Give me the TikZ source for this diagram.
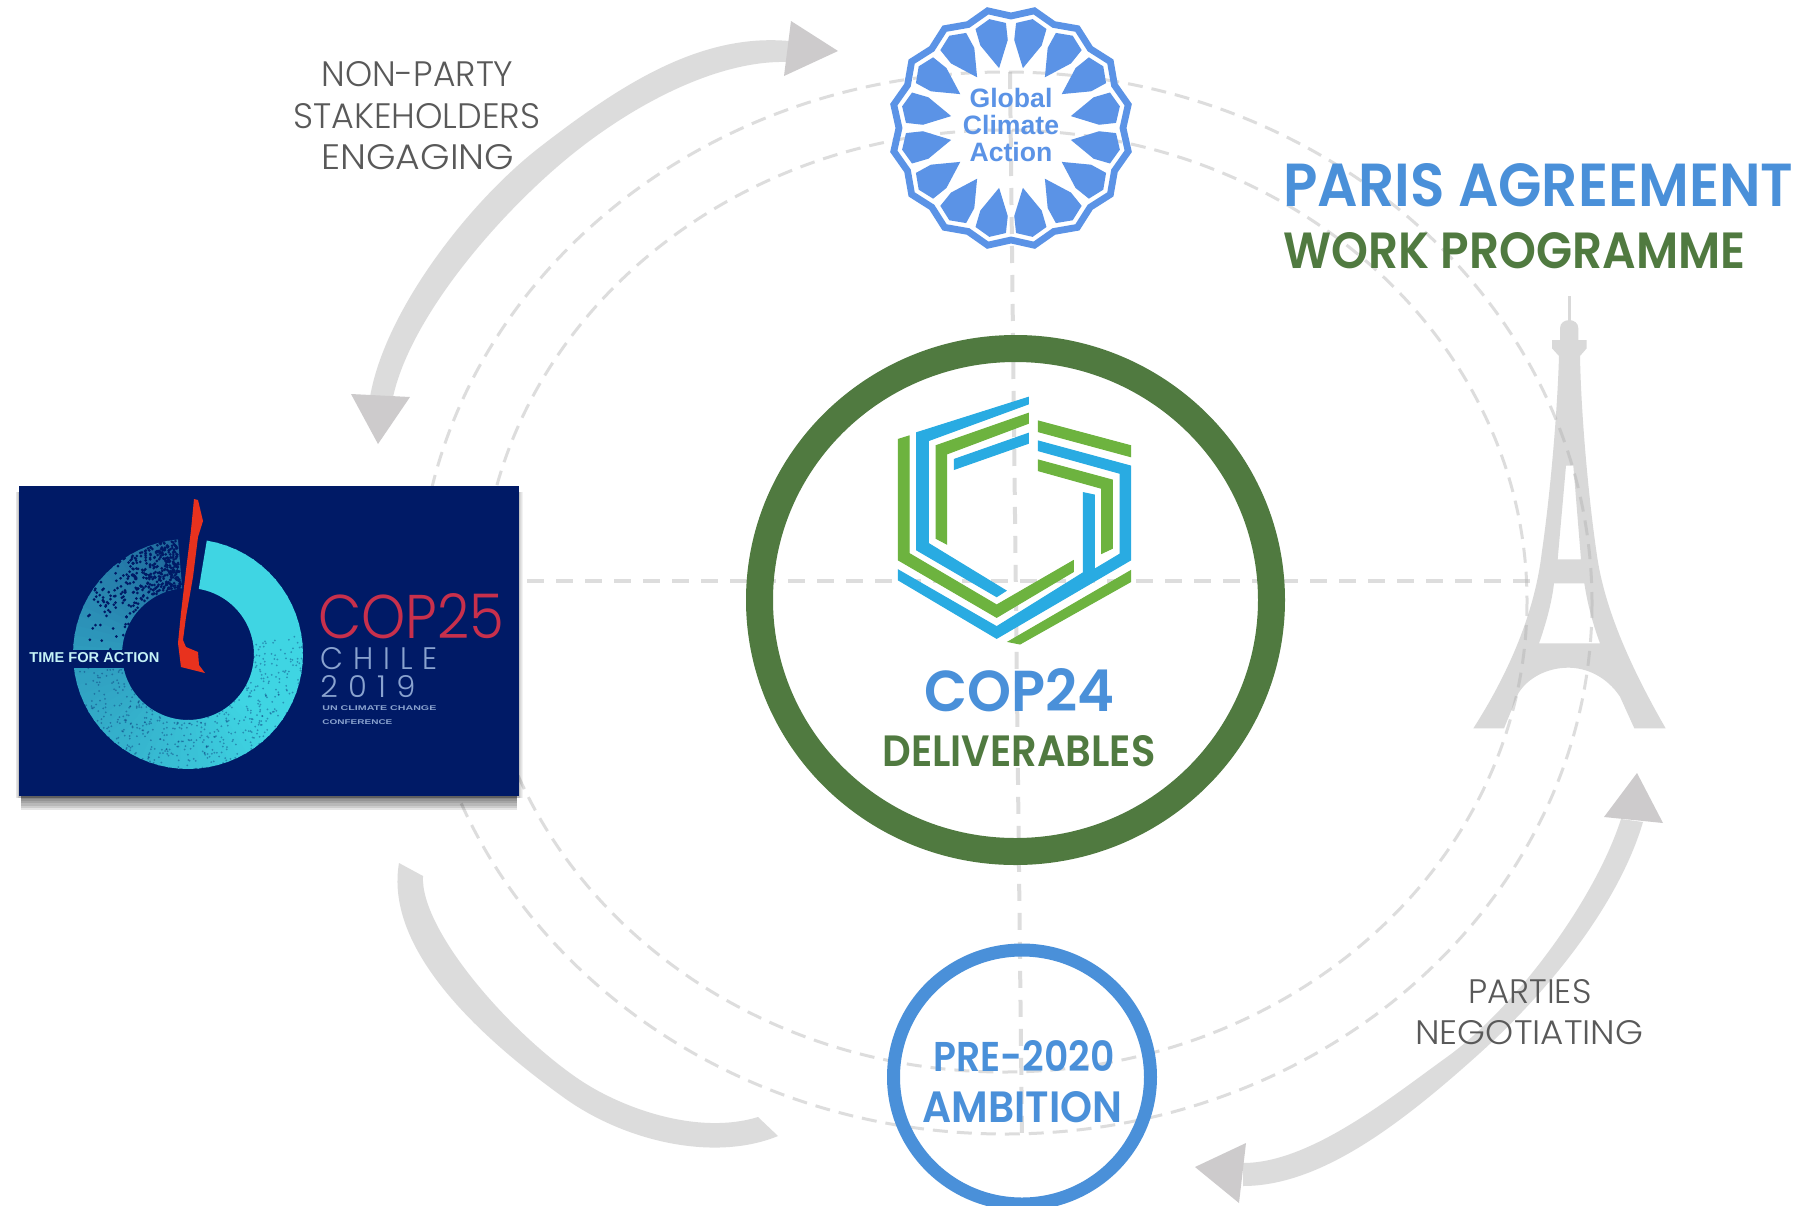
\documentclass[tikz,border=0pt]{standalone}
\usepackage{graphicx}
\usepackage{fontspec}
\setmainfont{Poppins}
\newfontfamily\lightf{Poppins Light}
\newfontfamily\boldf{Poppins SemiBold}
\newfontfamily\arialf{Liberation Sans}
\newcommand\fit[3]{\resizebox{#1}{#2}{#3}}
\definecolor{dashc}{HTML}{B0B0B0}
\definecolor{arrowc}{HTML}{DCDCDC}
\definecolor{headc}{HTML}{CDCBCC}
\definecolor{eiffelc}{HTML}{D9D9D9}
\definecolor{labelc}{HTML}{595959}
\definecolor{blueT}{HTML}{4A90D9}
\definecolor{greenT}{HTML}{507A40}
\definecolor{gcablue}{HTML}{5B93E6}
\definecolor{logoblue}{HTML}{29ABE2}
\definecolor{logogreen}{HTML}{6DB33F}
\definecolor{navy}{HTML}{001A66}
\definecolor{ringc}{HTML}{3FD5E3}
\definecolor{ringd}{HTML}{0F2F78}
\definecolor{copred}{HTML}{C8304C}
\definecolor{copgrey}{HTML}{8AA3CF}
\definecolor{chile}{HTML}{E8321E}
\tikzset{
  ell/.style={draw=dashc,draw opacity=.42,line width=1.5pt,dash pattern=on 7.5pt off 4.5pt},
  axis/.style={draw=dashc,draw opacity=.42,line width=2pt,dash pattern=on 8.5pt off 6pt},
  lbl/.style={inner sep=0pt,anchor=base west,text=labelc,font=\lightf},
  boldb/.style={inner sep=0pt,anchor=base west,text=blueT,font=\boldf},
  boldg/.style={inner sep=0pt,anchor=base west,text=greenT,font=\boldf},
  gca/.style={inner sep=0pt,anchor=base,text=gcablue,font=\arialf\bfseries\fontsize{13.3pt}{14pt}\selectfont},
  cop/.style={inner sep=0pt,anchor=base west,font=\lightf},
  small/.style={inner sep=0pt,anchor=base west,text=copgrey,font=\arialf\bfseries},
  body/.style={fill=arrowc},
  head/.style={fill=headc},
  lgb/.style={fill=logoblue,draw=logoblue,line width=.5pt,line join=miter},
  lgg/.style={fill=logogreen,draw=logogreen,line width=.5pt,line join=miter},
}
\begin{document}
\begin{tikzpicture}[x=0.5pt,y=-0.5pt]
\clip (0,0) rectangle (1796,1206);
\fill[white] (0,0) rectangle (1796,1206);

% Eiffel tower
\begin{scope}[shift={(1440,280)},x=0.16667pt,y=-0.16667pt]
\fill[eiffelc] (384,48) rectangle (393,125);
\fill[eiffelc,even odd rule]
 (360,180) -- (360,145) .. controls (360,112) and (415,112) .. (415,145) -- (415,180)
 -- (440,180) -- (440,205) -- (420,228)
 .. controls (423,400) and (445,650) .. (470,820)
 .. controls (485,930) and (530,1090) .. (677,1345)
 -- (583,1345) -- (540,1250) .. controls (500,1190) and (440,1163) .. (385,1163)
 .. controls (320,1163) and (262,1195) .. (235,1240)
 -- (192,1345) -- (100,1345)
 .. controls (180,1220) and (280,1030) .. (305,820)
 .. controls (330,650) and (352,400) .. (357,228)
 -- (336,205) -- (336,180) -- cycle
 (378,557) -- (400,557) -- (423,838) -- (353,838) -- cycle
 (342,910) -- (433,910) .. controls (442,970) and (458,1030) .. (480,1090) -- (297,1090)
 .. controls (318,1030) and (335,970) .. (342,910) -- cycle;
\end{scope}

% dashed orbits and axes
\draw[ell] (1005,603) ellipse [x radius=587,y radius=531];
\draw[ell] (1004,601) ellipse [x radius=523,y radius=471];
\coordinate (hl) at (527,581);
\coordinate (hr) at (1534,581);
\coordinate (vt) at (1010,72);
\coordinate (vb) at (1022,1135);
\draw[axis] (hl) -- (hr);
\draw[axis] (vt) -- (vb);

% grey arrows
\fill[body] (789,41) .. controls (700,33) and (620,85) .. (540,147) .. controls (470,201) and (385,310) .. (370,397)
  -- (393,397) .. controls (410,320) and (490,225) .. (557,167) .. controls (625,108) and (715,60) .. (787,62) -- cycle;
\fill[head] (838,51) -- (791,21) -- (784,76) -- cycle;
\fill[head] (378,444) -- (351,394) -- (410,397) -- cycle;

\fill[body] (399,863) .. controls (385,945) and (470,1030) .. (563,1097) .. controls (625,1142) and (715,1162) .. (778,1136)
  -- (758,1117) .. controls (700,1135) and (625,1110) .. (580,1080) .. controls (510,1033) and (420,930) .. (423,876) -- cycle;

\fill[body] (1643,822) .. controls (1620,900) and (1555,985) .. (1480,1053) .. controls (1400,1125) and (1320,1186) .. (1243,1186)
  -- (1243,1163) .. controls (1310,1163) and (1390,1098) .. (1447,1057) .. controls (1515,1008) and (1595,900) .. (1621,819) -- cycle;
\fill[head] (1637,773) -- (1604,817) -- (1663,823) -- cycle;
\fill[head] (1195,1167) -- (1246,1143) -- (1239,1203) -- cycle;

% central ring
\draw[greenT,line width=13.5pt] (1015.5,600) ellipse [x radius=256,y radius=251.5];
% bottom ring
\draw[blueT,line width=6.5pt] (1022,1077) ellipse [x radius=128.5,y radius=127];

% Global Climate Action emblem
\draw[gcablue,line width=3.4pt,line join=miter]
  plot[samples at={0,1,...,31},variable=\k] ({1011+(mod(\k,2)==0?112:119.5)*cos(\k*11.25)},{128+(mod(\k,2)==0?112:119.5)*sin(\k*11.25)}) -- cycle;
\foreach \r in {11.25,33.75,...,348.75}{
  \begin{scope}[shift={(1011,128)},rotate=\r]
  \fill[gcablue] (61,0) -- (87,-14) -- (104,-15.5) -- (111,0) -- (104,15.5) -- (87,14) -- cycle;
  \end{scope}
}
\node[gca] (gca1) at (1011,107) {Global};
\node[gca] (gca2) at (1011,134) {Climate};
\node[gca] (gca3) at (1011,161) {Action};

% COP24 logo
\begin{scope}[shift={(860,380)},x=0.16667pt,y=-0.16667pt]
\path[lgb] (505,52) -- (170,158) -- (170,510) -- (410,650) -- (438,632) -- (205,490) -- (205,182) -- (505,72) -- cycle;
\path[lgg] (505,100) -- (228,197) -- (228,475) -- (260,492) -- (260,222) -- (505,130) -- cycle;
\path[lgb] (505,160) -- (283,238) -- (283,268) -- (505,190) -- cycle;
\path[lgg] (115,178) -- (147,168) -- (147,520) -- (410,675) -- (640,542) -- (640,575) -- (410,712) -- (115,540) -- cycle;
\path[lgb] (115,570) -- (115,600) -- (410,775) -- (812,540) -- (812,258) -- (535,183) -- (535,212) -- (780,280) -- (780,522) -- (703,568) -- (703,345) -- (670,338) -- (670,578) -- (410,740) -- cycle;
\path[lgg] (535,123) -- (812,197) -- (812,230) -- (535,155) -- cycle;
\path[lgg] (535,240) -- (757,300) -- (757,505) -- (725,520) -- (725,325) -- (535,272) -- cycle;
\path[lgg] (812,572) -- (812,605) -- (480,792) -- (445,785) -- cycle;
\end{scope}

% COP25 box
\foreach \d in {0,1,...,5}{
  \fill[black,opacity=.05] ({19-\d*.7},492) rectangle ({519+\d*.7},798);
  \fill[black,opacity=.10] (21,796) rectangle (517,{799+\d*2.2});
}
\fill[navy] (19,486) rectangle (519,796);
\foreach \a in {80,75,...,-260}{
  \pgfmathsetmacro\p{\a>-40?100:(\a>-180?100-(-40-\a)/140*35:65-(-180-\a)/80*30)}
  \fill[ringc!\p!ringd] ({188+115*cos(\a+.6)},{654-115*sin(\a+.6)}) -- ({188+115*cos(\a-5)},{654-115*sin(\a-5)})
     -- ({188+66*cos(\a-5)},{654-66*sin(\a-5)}) -- ({188+66*cos(\a+.6)},{654-66*sin(\a+.6)}) -- cycle;
}
% stippled fade of the ring
\pgfmathsetseed{7}
\foreach \i in {1,...,420}{
  \pgfmathsetmacro\da{96+84*rnd*rnd}
  \pgfmathsetmacro\dr{66+49*rnd}
  \fill[navy] ({188+\dr*cos(\da)},{654-\dr*sin(\da)}) circle [radius=1.5];
}
\foreach \i in {1,...,500}{
  \pgfmathsetmacro\da{180+190*rnd}
  \pgfmathsetmacro\dr{66+49*rnd}
  \fill[navy,opacity=.35] ({188+\dr*cos(\da)},{654-\dr*sin(\da)}) circle [radius=1];
}
\fill[navy] (60,650) rectangle (125,668);
\fill[chile] (194,499) -- (198,500) -- (203,521) -- (198,537) -- (193,577) -- (186,617) -- (183,640)
  -- (186,647) -- (198,652) -- (199,665) -- (205,673) -- (193,670) -- (181,667) -- (178,643) -- (181,613) -- (186,570) -- (191,530) -- cycle;
\node[small,text=white!70!ringc] (tfa) at (29,662) {\fit{65pt}{5pt}{TIME FOR ACTION}};
\node[cop,text=copred] (c25) at (318,638) {\fit{93pt}{22.5pt}{COP25}};
\node[cop,text=copgrey] (chl) at (320,669) {\fit{58.5pt}{11pt}{C\,\,H\,\,I\,\,L\,\,E}};
\node[cop,text=copgrey] (yr) at (320,697) {\fit{47.5pt}{11pt}{2\,\,0\,\,1\,\,9}};
\node[small] (unc) at (322,710) {\fit{57pt}{2.4pt}{UN CLIMATE CHANGE}};
\node[small] (conf) at (322,724) {\fit{35pt}{2.4pt}{CONFERENCE}};

% labels
\node[lbl] (l1) at (321,86) {\fit{96pt}{12.5pt}{NON-PARTY}};
\node[lbl] (l2) at (293,128) {\fit{123.5pt}{12.5pt}{STAKEHOLDERS}};
\node[lbl] (l3) at (321,169) {\fit{96.5pt}{12.5pt}{ENGAGING}};
\node[lbl] (l4) at (1468,1003) {\fit{61.5pt}{12pt}{PARTIES}};
\node[lbl] (l5) at (1415,1044) {\fit{114pt}{12pt}{NEGOTIATING}};

\node[boldb] (t1) at (1283,206) {\fit{255pt}{21.5pt}{PARIS AGREEMENT}};
\node[boldg] (t2) at (1283,268) {\fit{231pt}{18pt}{WORK PROGRAMME}};
\node[boldb] (t3) at (924,711) {\fit{95pt}{21.5pt}{COP24}};
\node[boldg] (t4) at (882,766) {\fit{136.5pt}{15.5pt}{DELIVERABLES}};
\node[boldb] (t5) at (933,1071) {\fit{90.5pt}{15.5pt}{PRE-2020}};
\node[boldb] (t6) at (922,1122) {\fit{100pt}{15.5pt}{AMBITION}};
\end{tikzpicture}
\end{document}
